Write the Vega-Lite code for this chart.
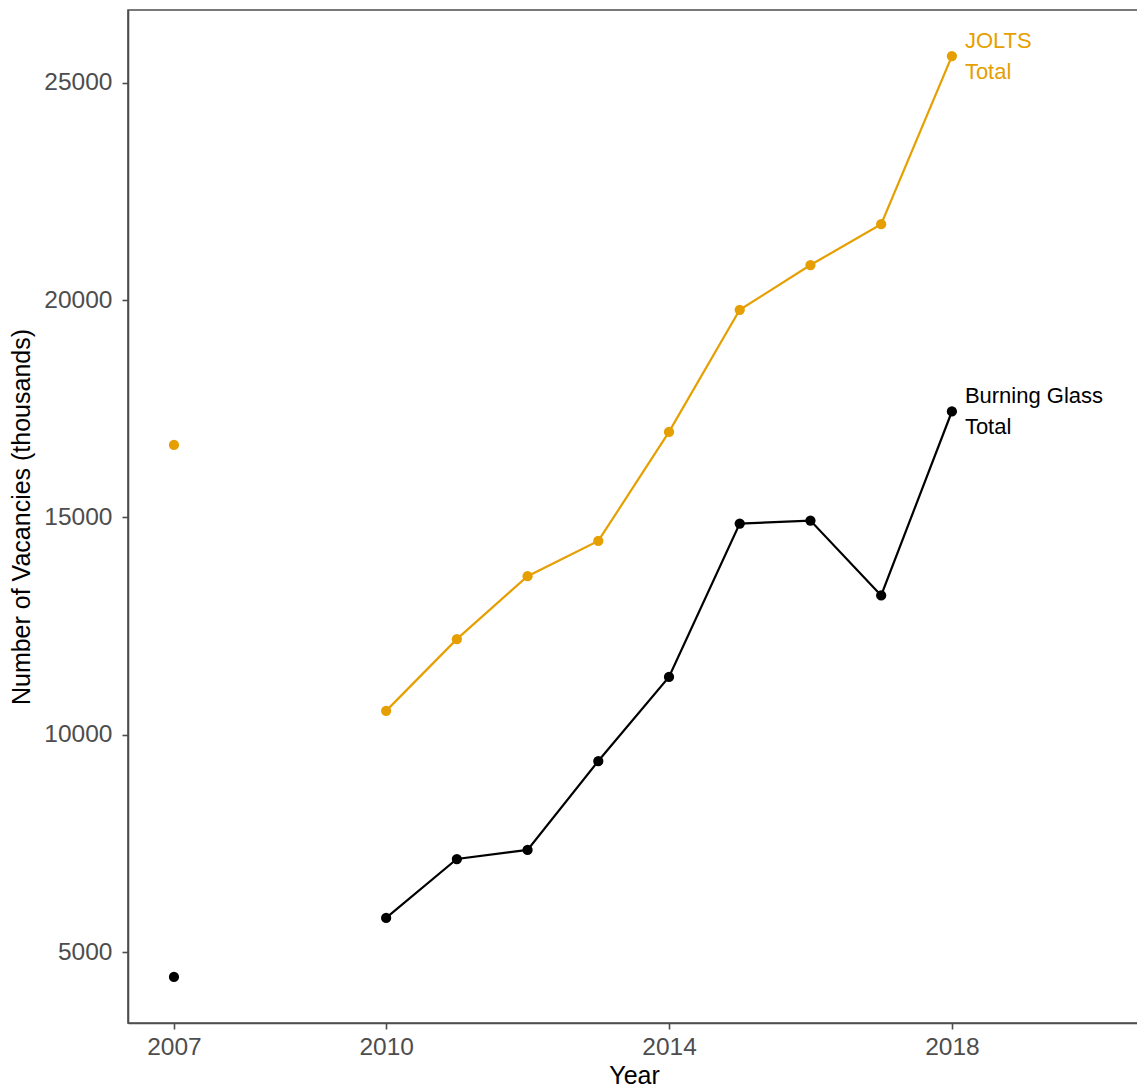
{
  "$schema": "https://vega.github.io/schema/vega-lite/v6.json",
  "width": 1012,
  "height": 1013,
  "autosize": {"type": "none"},
  "padding": {"left": 128, "top": 10, "right": 0, "bottom": 66},
  "background": "white",
  "config": {
    "font": "Liberation Sans",
    "view": {"stroke": "#4d4d4d", "strokeWidth": 1.6},
    "axis": {
      "grid": false,
      "domainColor": "#4d4d4d",
      "domainWidth": 1.6,
      "tickColor": "#4d4d4d",
      "tickWidth": 1.6,
      "tickSize": 6,
      "labelColor": "#4d4d4d",
      "labelFontSize": 24.5,
      "labelFont": "Liberation Sans",
      "titleFont": "Liberation Sans",
      "titleFontSize": 25,
      "titleFontWeight": "normal",
      "titleColor": "#000000"
    }
  },
  "datasets": {
    "series": [
      {"year": 2007, "value": 16670, "series": "JOLTS"},
      {"year": 2010, "value": 10550, "series": "JOLTS"},
      {"year": 2011, "value": 12200, "series": "JOLTS"},
      {"year": 2012, "value": 13650, "series": "JOLTS"},
      {"year": 2013, "value": 14460, "series": "JOLTS"},
      {"year": 2014, "value": 16970, "series": "JOLTS"},
      {"year": 2015, "value": 19780, "series": "JOLTS"},
      {"year": 2016, "value": 20810, "series": "JOLTS"},
      {"year": 2017, "value": 21750, "series": "JOLTS"},
      {"year": 2018, "value": 25620, "series": "JOLTS"},
      {"year": 2007, "value": 4425, "series": "Burning Glass"},
      {"year": 2010, "value": 5785, "series": "Burning Glass"},
      {"year": 2011, "value": 7140, "series": "Burning Glass"},
      {"year": 2012, "value": 7350, "series": "Burning Glass"},
      {"year": 2013, "value": 9395, "series": "Burning Glass"},
      {"year": 2014, "value": 11330, "series": "Burning Glass"},
      {"year": 2015, "value": 14860, "series": "Burning Glass"},
      {"year": 2016, "value": 14930, "series": "Burning Glass"},
      {"year": 2017, "value": 13205, "series": "Burning Glass"},
      {"year": 2018, "value": 17440, "series": "Burning Glass"}
    ],
    "labels": [
      {"year": 2018, "value": 25620, "series": "JOLTS", "label": "JOLTS\nTotal"},
      {"year": 2018, "value": 17440, "series": "Burning Glass", "label": "Burning Glass\nTotal"}
    ]
  },
  "encoding": {
    "x": {
      "field": "year", "type": "quantitative",
      "scale": {"domain": [2006.35, 2020.66], "nice": false, "zero": false},
      "axis": {"values": [2007, 2010, 2014, 2018], "format": "d", "title": "Year", "labelPadding": 6, "titlePadding": 5}
    },
    "y": {
      "field": "value", "type": "quantitative",
      "scale": {"domain": [3366, 26680], "nice": false, "zero": false},
      "axis": {"values": [5000, 10000, 15000, 20000, 25000], "format": "d", "title": "Number of Vacancies (thousands)", "labelPadding": 10, "titlePadding": 9}
    },
    "color": {
      "field": "series", "type": "nominal",
      "scale": {"domain": ["JOLTS", "Burning Glass"], "range": ["#E69F00", "#000000"]},
      "legend": null
    }
  },
  "layer": [
    {
      "data": {"name": "series"},
      "transform": [{"filter": "datum.year >= 2010"}],
      "mark": {"type": "line", "strokeWidth": 2.2},
      "encoding": {"detail": {"field": "series"}}
    },
    {
      "data": {"name": "series"},
      "mark": {"type": "point", "filled": true, "opacity": 1, "size": 105}
    },
    {
      "data": {"name": "labels"},
      "mark": {"type": "text", "align": "left", "baseline": "middle", "dx": 13, "dy": -15, "fontSize": 22, "lineHeight": 31, "lineBreak": "\n"},
      "encoding": {"text": {"field": "label"}}
    }
  ]
}
